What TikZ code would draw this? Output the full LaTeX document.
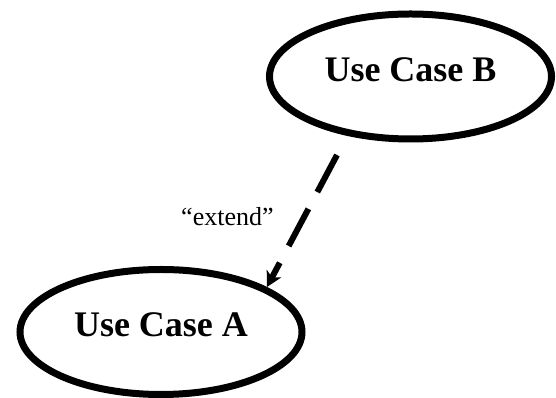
\documentclass[tikz,border=0pt]{standalone}
\usepackage{fontspec}
\setmainfont{Liberation Serif}
\usetikzlibrary{shapes.geometric}
\usetikzlibrary{arrows.meta}
\tikzset{>={Stealth[length=15pt,width=16pt,inset=4pt]}}
\tikzstyle{usecase} = [draw, ellipse, line width=7pt,
    minimum width=282pt, minimum height=125pt, text depth=14pt,
    font=\fontsize{36}{43}\selectfont\bfseries]
\tikzstyle{extendline} = [->, line width=6pt, dash pattern=on 42pt off 19pt]

\begin{document}
\begin{tikzpicture}[x=1pt,y=1pt]
    % fix the page to the size of the reference
    \useasboundingbox (0,0) rectangle (556,398);
    % We start by placing the two use cases
    \node [usecase] (caseA) at (161,66) {Use Case A};
    \node [usecase] (caseB) at (410.5,321.5) {Use Case B};
    % the dependency starts a little below B
    \coordinate (tail) at (337,243);
    \draw [extendline] (tail) -- node [midway, left=22pt, yshift=4pt,
        font=\fontsize{26}{31}\selectfont] {“extend”} (caseA.23);
\end{tikzpicture}
\end{document}
